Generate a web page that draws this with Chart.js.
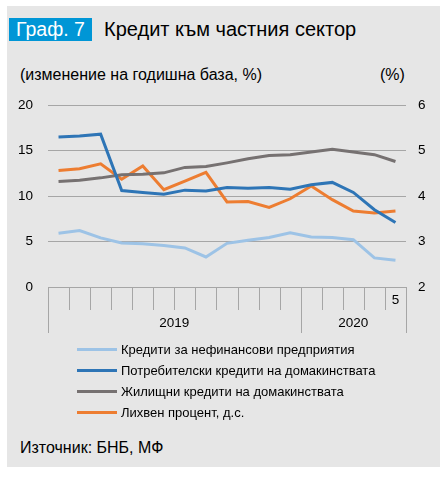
<!DOCTYPE html>
<html>
<head>
<meta charset="utf-8">
<script src="https://cdn.jsdelivr.net/npm/chart.js@4/dist/chart.umd.min.js"></script>
<style>
  body { margin: 0; background: #fff; font-family: "Liberation Sans", Arial, sans-serif; color: #000; }
  #panel { position: absolute; left: 7px; top: 6px; width: 433px; height: 461px; background: #e6e6e6; }
  .abs { position: absolute; white-space: nowrap; }
  #tag { left: 9px; top: 18px; width: 83px; height: 23px; line-height: 23px; background: #0096d6; color: #fff; font-size: 19.5px; text-align: center; }
  #title { left: 104px; top: 18px; height: 23px; line-height: 23px; font-size: 20px; }
  .sub { top: 66px; font-size: 16px; line-height: 18px; }
  #chartWrap { position: absolute; left: 0; top: 82px; }
  .legRow { position: absolute; left: 77px; height: 18px; line-height: 18px; font-size: 13px; white-space: nowrap; }
  .legRow span.ln { display: inline-block; width: 40px; height: 3px; vertical-align: middle; margin-right: 4px; position: relative; top: -1px; }
  #source { left: 20px; top: 439px; font-size: 16px; line-height: 18px; }
</style>
</head>
<body>
<div id="panel"></div>
<div id="tag" class="abs">Граф. 7</div>
<div id="title" class="abs">Кредит към частния сектор</div>
<div class="abs sub" style="left:20px">(изменение на годишна база, %)</div>
<div class="abs sub" style="left:380px">(%)</div>
<div id="chartWrap"><canvas id="chart" width="447" height="263"></canvas></div>
<div id="legend"></div>
<div id="source" class="abs">Източник: БНБ, МФ</div>

<script>
// Months Jan 2019 - May 2020
const months = ['1', '2', '3', '4', '5', '6', '7', '8', '9', '10', '11', '12', '1', '2', '3', '4', '5'];
const years = [{ label: '2019', from: 0, to: 12 }, { label: '2020', from: 12, to: 17 }];

// Left axis, annual change %
const enterprises = [5.9, 6.2, 5.4, 4.85, 4.75, 4.55, 4.3, 3.3, 4.8, 5.15, 5.45, 5.95, 5.5, 5.45, 5.2, 3.2, 2.95];
const consumer = [16.5, 16.6, 16.8, 10.6, 10.4, 10.2, 10.65, 10.55, 10.95, 10.85, 10.95, 10.75, 11.25, 11.5, 10.4, 8.5, 7.1];
const housing = [11.6, 11.75, 12.0, 12.35, 12.4, 12.55, 13.15, 13.25, 13.65, 14.1, 14.45, 14.55, 14.85, 15.15, 14.85, 14.55, 13.8];
// Right axis, interest rate %
const interestRate = [4.56, 4.6, 4.71, 4.37, 4.66, 4.14, 4.33, 4.52, 3.87, 3.88, 3.75, 3.94, 4.22, 3.92, 3.67, 3.63, 3.67];

const seriesNames = [
    'Кредити за нефинансови предприятия',
    'Потребителски кредити на домакинствата',
    'Жилищни кредити на домакинствата',
    'Лихвен процент, д.с.'
];
const seriesColors = ['#9dc3e6', '#2e75b6', '#767171', '#ed7d31'];

const gridColor = '#a6a6a6';
const tickFont = { family: '"Liberation Sans", Arial, sans-serif', size: 13.5 };

// Custom x axis: month tick marks, last month label and year groups
const xAxisPlugin = {
    id: 'xAxisGroups',
    afterDraw(chart) {
        const ctx = chart.ctx;
        const x = chart.scales.x;
        const top = chart.chartArea.bottom;
        const n = months.length;
        const edge = i => {
            if (i === 0) return chart.chartArea.left;
            if (i === n) return chart.chartArea.right;
            return (x.getPixelForValue(i - 1) + x.getPixelForValue(i)) / 2;
        };
        const longMarks = years.map(y => y.from).concat([n]);

        ctx.save();
        ctx.strokeStyle = gridColor;
        ctx.lineWidth = 1;
        for (let i = 0; i <= n; i++) {
            const px = Math.round(edge(i)) + 0.5;
            const len = longMarks.includes(i) ? 46 : 23;
            ctx.beginPath();
            ctx.moveTo(px, top);
            ctx.lineTo(px, top + len);
            ctx.stroke();
        }

        ctx.fillStyle = '#000';
        ctx.font = '13.5px "Liberation Sans", Arial, sans-serif';
        ctx.textAlign = 'center';
        ctx.textBaseline = 'middle';
        ctx.fillText(months[n - 1], x.getPixelForValue(n - 1), top + 13);
        for (const y of years) {
            const cx = (edge(y.from) + edge(y.to)) / 2;
            ctx.fillText(y.label, cx, top + 36);
        }
        ctx.restore();
    }
};

new Chart(document.getElementById('chart'), {
    type: 'line',
    data: {
        labels: months,
        datasets: [
            { label: seriesNames[0], data: enterprises, borderColor: seriesColors[0], yAxisID: 'y' },
            { label: seriesNames[1], data: consumer, borderColor: seriesColors[1], yAxisID: 'y' },
            { label: seriesNames[2], data: housing, borderColor: seriesColors[2], yAxisID: 'y' },
            { label: seriesNames[3], data: interestRate, borderColor: seriesColors[3], yAxisID: 'y1' }
        ].map(d => Object.assign(d, { borderWidth: 3, pointRadius: 0, tension: 0, fill: false }))
    },
    options: {
        responsive: false,
        animation: false,
        layout: { padding: 0 },
        plugins: { legend: { display: false }, tooltip: { enabled: false } },
        scales: {
            x: {
                type: 'category',
                offset: true,
                grid: { display: false },
                ticks: { display: false },
                border: { display: true, color: gridColor },
                afterFit(scale) { scale.height = 58; }
            },
            y: {
                position: 'left',
                min: 0, max: 20,
                ticks: { stepSize: 5, padding: 15, color: '#000', font: tickFont },
                grid: { color: gridColor, drawTicks: false },
                border: { display: false },
                afterFit(scale) { scale.width = 48; }
            },
            y1: {
                position: 'right',
                min: 2, max: 6,
                ticks: { stepSize: 1, padding: 12, color: '#000', font: tickFont },
                grid: { drawOnChartArea: false, drawTicks: false },
                border: { display: false },
                afterFit(scale) { scale.width = 41; }
            }
        }
    },
    plugins: [xAxisPlugin]
});

// Legend below the chart
const legend = document.getElementById('legend');
seriesNames.forEach((name, i) => {
    const row = document.createElement('div');
    row.className = 'legRow';
    row.style.top = (341 + i * 21) + 'px';
    row.innerHTML = '<span class="ln" style="background:' + seriesColors[i] + '"></span>' + name;
    legend.appendChild(row);
});
</script>
</body>
</html>
